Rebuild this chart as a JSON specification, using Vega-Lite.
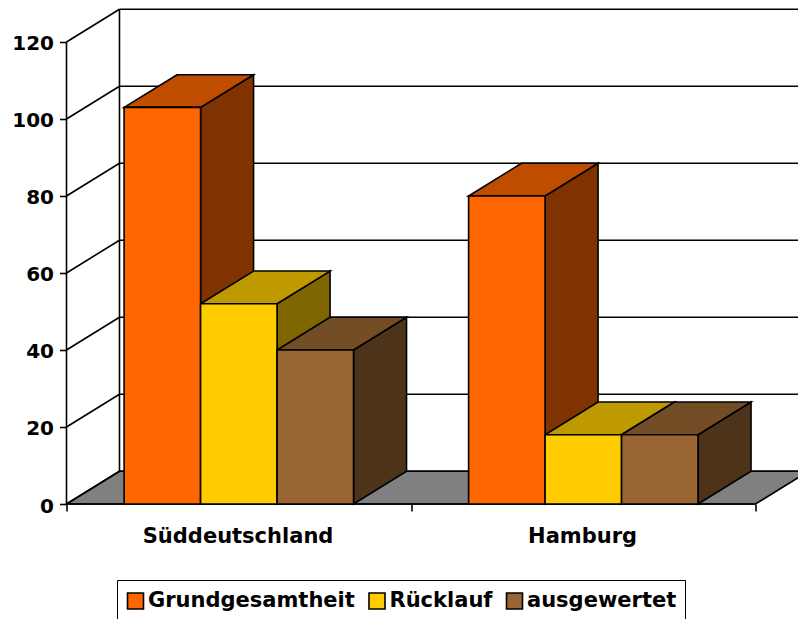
{
"$schema":"https://vega.github.io/schema/vega-lite/v6.json",
"width":731,"height":504,
"autosize":{"type":"none"},
"padding":{"left":66.5,"top":0,"right":0.5,"bottom":115},
"background":"white",
"config":{"view":{"stroke":null},"font":"DejaVu Sans"},
"datasets":{
"balken":[
{"region":"Süddeutschland","serie":"Grundgesamtheit","wert":103},
{"region":"Süddeutschland","serie":"Rücklauf","wert":52},
{"region":"Süddeutschland","serie":"ausgewertet","wert":40},
{"region":"Hamburg","serie":"Grundgesamtheit","wert":80},
{"region":"Hamburg","serie":"Rücklauf","wert":18},
{"region":"Hamburg","serie":"ausgewertet","wert":18}
],
"raster":[{"v":0},{"v":20},{"v":40},{"v":60},{"v":80},{"v":100},{"v":120}],
"regionen":[{"region":"Süddeutschland"},{"region":"Hamburg"}]
},
"layer":[
{
"data":{"values":[{"t":0},{"t":1}]},
"transform":[{"calculate":"datum.t*8.5","as":"fy"},{"calculate":"datum.t*0.1538","as":"fa"},{"calculate":"2+datum.t*0.1538","as":"fb"}],
"mark":{"type":"area","orient":"horizontal","fill":"#808080","stroke":"black","strokeWidth":1.6},
"encoding":{
"y":{"field":"fy","type":"quantitative","stack":null,"scale":{"domain":[0,130.9],"nice":false,"zero":false},
"axis":{"values":[0,20,40,60,80,100,120],"domain":false,"grid":false,"title":null,"tickColor":"black","tickSize":7,"tickWidth":1.6,"labelFontSize":20,"labelFontWeight":"bold","labelFont":"DejaVu Sans","labelColor":"black","labelPadding":6,"labelOffset":2}},
"x":{"field":"fa","type":"quantitative","stack":null,"scale":{"domain":[0,2.1219],"nice":false,"zero":false},
"axis":{"values":[0,1,2],"domain":false,"grid":false,"title":null,"labelExpr":"''","tickColor":"black","tickSize":7,"tickWidth":1.6}},
"x2":{"field":"fb"}
}
},
{
"data":{"name":"raster"},
"transform":[{"calculate":"datum.v+8.5","as":"hy"}],
"mark":{"type":"rule","stroke":"black","strokeWidth":1.6},
"encoding":{
"y":{"field":"hy","type":"quantitative","scale":{"domain":[0,130.9],"nice":false,"zero":false}},
"x":{"datum":0.1538,"type":"quantitative","scale":{"domain":[0,2.1219],"nice":false,"zero":false}},
"x2":{"datum":2.1538}
}
},
{
"data":{"name":"raster"},
"transform":[{"calculate":"datum.v+8.5","as":"hy"}],
"mark":{"type":"rule","stroke":"black","strokeWidth":1.6},
"encoding":{
"y":{"field":"v","type":"quantitative","scale":{"domain":[0,130.9],"nice":false,"zero":false}},
"y2":{"field":"hy"},
"x":{"datum":0,"type":"quantitative","scale":{"domain":[0,2.1219],"nice":false,"zero":false}},
"x2":{"datum":0.1538}
}
},
{
"data":{"values":[{"a":0,"b":120,"p":0},{"a":8.5,"b":128.5,"p":0.1538}]},
"mark":{"type":"rule","stroke":"black","strokeWidth":1.6},
"encoding":{
"y":{"field":"a","type":"quantitative","scale":{"domain":[0,130.9],"nice":false,"zero":false}},
"y2":{"field":"b"},
"x":{"field":"p","type":"quantitative","scale":{"domain":[0,2.1219],"nice":false,"zero":false}}
}
},
{
"data":{"name":"balken"},
"transform":[
{"calculate":"indexof(['Süddeutschland','Hamburg'],datum.region)+0.1672+0.222*indexof(['Grundgesamtheit','Rücklauf','ausgewertet'],datum.serie)","as":"x0"},
{"calculate":"[0,1]","as":"t"},{"flatten":["t"]},
{"calculate":"datum.x0+0.222+datum.t*0.1538","as":"sx"},
{"calculate":"datum.wert+datum.t*8.5","as":"so"},
{"calculate":"datum.t*8.5","as":"su"}
],
"mark":{"type":"area","orient":"vertical","stroke":"black","strokeWidth":1.6},
"encoding":{
"x":{"field":"sx","type":"quantitative","scale":{"domain":[0,2.1219],"nice":false,"zero":false}},
"y":{"field":"so","type":"quantitative","stack":null,"scale":{"domain":[0,130.9],"nice":false,"zero":false}},
"y2":{"field":"su"},
"detail":{"field":"region"},
"fill":{"field":"serie","type":"nominal","legend":null,"scale":{"domain":["Grundgesamtheit","Rücklauf","ausgewertet"],"range":["#803300","#806600","#4D3319"]}}
}
},
{
"data":{"name":"balken"},
"transform":[
{"calculate":"indexof(['Süddeutschland','Hamburg'],datum.region)+0.1672+0.222*indexof(['Grundgesamtheit','Rücklauf','ausgewertet'],datum.serie)","as":"x0"},
{"calculate":"[0,1]","as":"t"},{"flatten":["t"]},
{"calculate":"datum.x0+datum.t*0.1538","as":"ta"},
{"calculate":"datum.x0+0.222+datum.t*0.1538","as":"tb"},
{"calculate":"datum.wert+datum.t*8.5","as":"ty"}
],
"mark":{"type":"area","orient":"horizontal","stroke":"black","strokeWidth":1.6},
"encoding":{
"y":{"field":"ty","type":"quantitative","stack":null,"scale":{"domain":[0,130.9],"nice":false,"zero":false}},
"x":{"field":"ta","type":"quantitative","stack":null,"scale":{"domain":[0,2.1219],"nice":false,"zero":false}},
"x2":{"field":"tb"},
"detail":{"field":"region"},
"fill":{"field":"serie","type":"nominal","legend":null,"scale":{"domain":["Grundgesamtheit","Rücklauf","ausgewertet"],"range":["#BF4D00","#BF9900","#734D26"]}}
}
},
{
"data":{"values":[{"a":0,"p":0,"q":2}]},
"mark":{"type":"rule","stroke":"black","strokeWidth":1.6},
"encoding":{
"y":{"field":"a","type":"quantitative","scale":{"domain":[0,130.9],"nice":false,"zero":false}},
"x":{"field":"p","type":"quantitative","scale":{"domain":[0,2.1219],"nice":false,"zero":false}},
"x2":{"field":"q"}
}
},
{
"data":{"name":"balken"},
"transform":[
{"calculate":"indexof(['Süddeutschland','Hamburg'],datum.region)+0.1672+0.222*indexof(['Grundgesamtheit','Rücklauf','ausgewertet'],datum.serie)","as":"x0"},
{"calculate":"datum.x0+0.222","as":"x1"}
],
"mark":{"type":"rect","stroke":"black","strokeWidth":1.6},
"encoding":{
"x":{"field":"x0","type":"quantitative","scale":{"domain":[0,2.1219],"nice":false,"zero":false}},
"x2":{"field":"x1"},
"y":{"field":"wert","type":"quantitative","scale":{"domain":[0,130.9],"nice":false,"zero":false}},
"y2":{"datum":0},
"fill":{"field":"serie","type":"nominal","scale":{"domain":["Grundgesamtheit","Rücklauf","ausgewertet"],"range":["#FF6600","#FFCC00","#996633"]},
"legend":{"orient":"none","legendX":50.5,"legendY":580,"direction":"horizontal","columns":3,"title":null,"fillColor":"white","strokeColor":"black","padding":8,"symbolType":"square","symbolSize":256,"symbolStrokeColor":"black","symbolStrokeWidth":1.6,"labelFont":"DejaVu Sans","labelFontSize":21,"labelFontWeight":"bold","labelColor":"black","labelOffset":2,"columnPadding":11.5,"labelLimit":300,"clipHeight":26}}
}
},
{
"data":{"name":"regionen"},
"transform":[{"calculate":"indexof(['Süddeutschland','Hamburg'],datum.region)+0.498","as":"lx"}],
"mark":{"type":"text","font":"DejaVu Sans","fontWeight":"bold","fontSize":21,"fill":"black","baseline":"middle","align":"center","y":537},
"encoding":{
"x":{"field":"lx","type":"quantitative","scale":{"domain":[0,2.1219],"nice":false,"zero":false}},
"text":{"field":"region"}
}
}
],
"resolve":{"scale":{"fill":"independent"}}
}
